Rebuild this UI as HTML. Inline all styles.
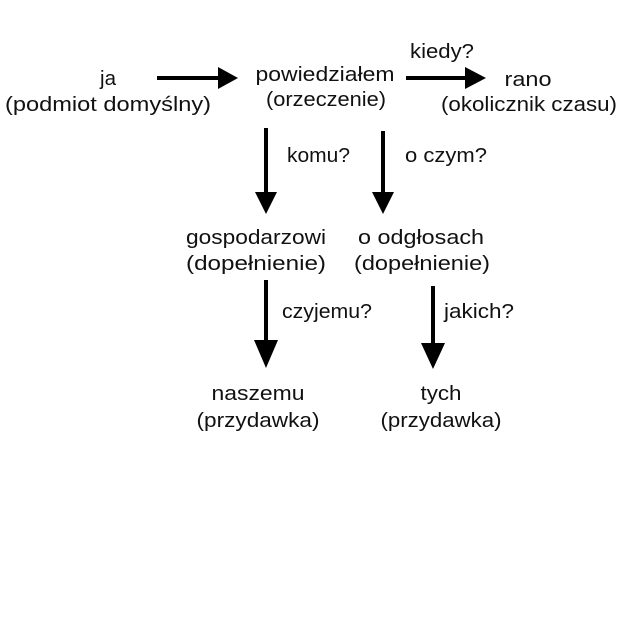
<!DOCTYPE html>
<html><head><meta charset="utf-8"><style>
html,body{margin:0;padding:0;background:#fff;width:625px;height:625px;overflow:hidden}
svg text{font-family:"Liberation Sans",sans-serif;font-size:20.5px;fill:#111}
</style></head><body>
<svg width="625" height="625" viewBox="0 0 625 625" xmlns="http://www.w3.org/2000/svg">
<g stroke="#000" stroke-width="4">
<line x1="157" y1="78" x2="220" y2="78"/>
<line x1="406" y1="78" x2="467" y2="78"/>
<line x1="266" y1="128" x2="266" y2="195"/>
<line x1="383" y1="131" x2="383" y2="195"/>
<line x1="266" y1="280" x2="266" y2="342"/>
<line x1="433" y1="286" x2="433" y2="345"/>
</g>
<g fill="#000">
<polygon points="218,67 238,78 218,89"/>
<polygon points="465,67 486,78 465,89"/>
<polygon points="255,192 266,214 277,192"/>
<polygon points="372,192 383,214 394,192"/>
<polygon points="254,340 266,368 278,340"/>
<polygon points="421,343 433,369 445,343"/>
</g>
<g text-anchor="middle">
<text x="108" y="85" textLength="16" lengthAdjust="spacingAndGlyphs">ja</text>
<text x="108" y="111" textLength="206" lengthAdjust="spacingAndGlyphs">(podmiot domyślny)</text>
<text x="325" y="81" textLength="139" lengthAdjust="spacingAndGlyphs">powiedziałem</text>
<text x="326" y="106" textLength="120" lengthAdjust="spacingAndGlyphs">(orzeczenie)</text>
<text x="442" y="58" textLength="64" lengthAdjust="spacingAndGlyphs">kiedy?</text>
<text x="528" y="86" textLength="47" lengthAdjust="spacingAndGlyphs">rano</text>
<text x="529" y="111" textLength="176" lengthAdjust="spacingAndGlyphs">(okolicznik czasu)</text>
<text x="256" y="244" textLength="140" lengthAdjust="spacingAndGlyphs">gospodarzowi</text>
<text x="256" y="270" textLength="140" lengthAdjust="spacingAndGlyphs">(dopełnienie)</text>
<text x="421" y="244" textLength="126" lengthAdjust="spacingAndGlyphs">o odgłosach</text>
<text x="422" y="270" textLength="136" lengthAdjust="spacingAndGlyphs">(dopełnienie)</text>
<text x="258" y="400" textLength="93" lengthAdjust="spacingAndGlyphs">naszemu</text>
<text x="258" y="427" textLength="123" lengthAdjust="spacingAndGlyphs">(przydawka)</text>
<text x="441" y="400" textLength="41" lengthAdjust="spacingAndGlyphs">tych</text>
<text x="441" y="427" textLength="121" lengthAdjust="spacingAndGlyphs">(przydawka)</text>
</g>
<text x="287" y="162" textLength="63" lengthAdjust="spacingAndGlyphs">komu?</text>
<text x="405" y="162" textLength="82" lengthAdjust="spacingAndGlyphs">o czym?</text>
<text x="282" y="318" textLength="90" lengthAdjust="spacingAndGlyphs">czyjemu?</text>
<text x="444" y="318" textLength="70" lengthAdjust="spacingAndGlyphs">jakich?</text>
</svg>
</body></html>
